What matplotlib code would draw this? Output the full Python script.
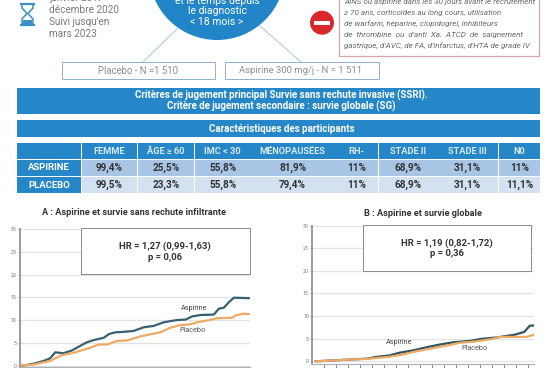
import matplotlib
matplotlib.use("Agg")
import matplotlib.pyplot as plt
from matplotlib.patches import Rectangle, Circle, Polygon

W, H = 553, 368
BLUE = "#2587c8"
DARK = "#3a3f44"
plt.rcParams['font.family'] = ['Roboto', 'DejaVu Sans']

# ---- data
columns = ["FEMME", "ÂGE ≥ 60", "IMC < 30", "MÉNOPAUSÉES", "RH-", "STADE II", "STADE III", "N0"]
row_names = ["ASPIRINE", "PLACEBO"]
aspirine_row = ["99,4%", "25,5%", "55,8%", "81,9%", "11%", "68,9%", "31,1%", "11%"]
placebo_row = ["99,5%", "23,3%", "55,8%", "79,4%", "11%", "68,9%", "31,1%", "11,1%"]

a_asp_x = [0, 1, 3.4, 5.8, 7.4, 8.6, 10.6, 12.6, 14.6, 16.2, 17.9, 20.3, 21.5, 23.1, 25.1, 27.5, 29.9, 32.3, 34.7, 38, 40, 41.6, 43.6, 46.8, 48, 49.2, 50.4, 51.6, 55.2]
a_asp_y = [0, 0, 0.4, 1, 1.6, 2.9, 2.7, 3.3, 4.3, 5.1, 5.6, 6.1, 6.9, 7.3, 7.4, 7.6, 8.4, 8.7, 9.5, 10, 10.1, 10.8, 11.1, 11.2, 12.5, 12.7, 13.9, 14.9, 14.8]
a_pla_x = [0, 3.4, 5.8, 7.4, 10.2, 12.6, 17, 19, 21, 23.5, 25.9, 29.1, 30.7, 33.9, 36.3, 38.8, 40.8, 42.8, 45.2, 47.6, 51.2, 52, 54, 55.2]
a_pla_y = [0, 0.2, 0.7, 1, 2.3, 2.7, 3.9, 4.6, 4.6, 5.4, 5.5, 6.4, 6.7, 7.3, 8.3, 8.9, 9, 9.5, 9.9, 10.4, 10.5, 11, 11.4, 11.3]

b_asp_x = [1, 7.75, 14, 16, 19.4, 21.9, 25.25, 28.6, 31.9, 35.25, 39.4, 42.75, 46.4, 50.7, 53, 54.4, 55.5]
b_asp_y = [0, 0.3, 0.6, 0.95, 1.3, 1.9, 2.4, 3.1, 3.7, 4.2, 4.5, 5, 5.3, 5.9, 6.5, 7.9, 7.9]
b_pla_x = [1, 7.75, 14, 19.4, 22.75, 26, 30.25, 34.4, 36.9, 41, 45.25, 46.9, 53.6, 55.5]
b_pla_y = [0, 0.3, 0.55, 1, 1.5, 2.2, 2.9, 3.6, 4.1, 4.4, 5, 5.4, 5.4, 5.9]

y_ticks = [0, 5, 10, 15, 20, 25, 30]
x_ticks = list(range(3, 55, 3))
col_edges = [17, 81.3, 137.7, 194.3, 251, 334, 378.5, 437, 498.3, 540.3]
XMAX = 55.5

fig = plt.figure(figsize=(W / 100, H / 100), dpi=100, facecolor="white")


def make_axes(x0, x1, ytop, ybot, ymin):
    ax = fig.add_axes([x0 / W, 1 - ybot / H, (x1 - x0) / W, (ybot - ytop) / H])
    ax.set_xlim(0, XMAX)
    ax.set_ylim(ymin, 30)
    ax.set_yticks(y_ticks)
    ax.set_xticks(x_ticks)
    ax.set_xticklabels([])
    ax.grid(axis="y", color="#e2e2e2", lw=0.9)
    ax.set_axisbelow(True)
    for s in ("top", "right"):
        ax.spines[s].set_visible(False)
    ax.spines["left"].set_color("#8f9498")
    ax.spines["left"].set_linewidth(1.3)
    ax.spines["bottom"].set_color("#aeb2b6")
    ax.spines["bottom"].set_linewidth(0.9)
    ax.tick_params(axis="y", labelsize=3.8, length=1.5, width=0.5, pad=0.5, colors="#777777")
    ax.tick_params(axis="x", length=3, width=0.6, colors="#777777")
    return ax


axA = make_axes(19.5, 250, 229, 366.7, -0.26)
axA.plot(a_asp_x, a_asp_y, color="#356170", lw=1.6, zorder=3)
axA.plot(a_pla_x, a_pla_y, color="#eeaa62", lw=1.6, zorder=3)

axB = make_axes(311.7, 534.3, 225.7, 364, -0.6)
axB.plot(b_asp_x, b_asp_y, color="#2f5560", lw=1.6, zorder=3)
axB.plot(b_pla_x, b_pla_y, color="#eeaa62", lw=1.6, zorder=3)

# ---- overlay drawn in pixel coordinates
ov = fig.add_axes([0, 0, 1, 1], zorder=10)
ov.set_xlim(0, W)
ov.set_ylim(H, 0)
ov.axis("off")
ov.patch.set_alpha(0)


def txt(x, y, s, size=7, color=DARK, ha="center", weight="normal", style="normal"):
    ov.text(x, y, s, fontsize=size, color=color, ha=ha, va="center", weight=weight, style=style, zorder=5)


def rect(x0, y0, x1, y1, fc="white", ec="none", lw=0.0, z=2):
    ov.add_patch(Rectangle((x0, y0), x1 - x0, y1 - y0, facecolor=fc, edgecolor=ec, linewidth=lw, zorder=z))


# top area
ov.plot([178, 143], [28, 62], color="#a9c6da", lw=0.7, zorder=1)
ov.plot([259, 301], [25, 62], color="#a9c6da", lw=0.7, zorder=1)
ov.add_patch(Circle((217, -28), 68, facecolor="#2185c7", edgecolor="none", zorder=2))
for y, s in [(0.5, "et le temps depuis"), (10.5, "le diagnostic"), (22, "< 18 mois >")]:
    ov.text(217, y, s, fontsize=7.5, color="white", ha="center", va="center", zorder=3)

rect(61.5, 62, 215, 78.5, ec="#8fb3cc", lw=0.7)
txt(137.7, 70.5, "Placebo - N =1 510", size=6.9, color="#8a8e92")
rect(225, 62, 378.5, 78.5, ec="#8fb3cc", lw=0.7)
txt(301, 70.5, "Aspirine 300 mg/j - N = 1 511", size=6.8, color="#8a8e92")

for y, s in [(-2, "janvier 2017 -"), (10, "décembre 2020"), (22, "Suivi jusqu'en"), (34, "mars 2023")]:
    txt(49, y, s, size=7.2, color="#777b80", ha="left")

# hourglass
ov.plot([20, 35], [3.5, 3.5], color="#3a8fc4", lw=1.6, solid_capstyle="butt")
ov.plot([20, 35], [24.5, 24.5], color="#3a8fc4", lw=1.6, solid_capstyle="butt")
ov.add_patch(Polygon([(22, 4), (33, 4), (33, 8), (28, 13.5), (33, 19), (33, 24), (22, 24), (22, 19), (27, 13.5), (22, 8)],
                     closed=True, fc="white", ec="#3a8fc4", lw=1.1))
ov.add_patch(Polygon([(23, 24), (32, 24), (32, 20), (23, 20)], closed=True, fc="#3a8fc4", ec="none"))

# contraindications
ov.add_patch(Circle((322, 22.7), 12, facecolor="#d9282c", edgecolor="none"))
ov.add_patch(Rectangle((314, 20.5), 16, 4.4, facecolor="white", edgecolor="none", zorder=3))
ov.plot([339.3, 339.3, 539.3, 539.3], [-2, 56, 56, -2], color="#d8a6aa", lw=0.9)
right_lines = ["AINS ou aspirine dans les 30 jours avant le recrutement",
               "≥ 70 ans, corticoïdes au long cours, utilisation",
               "de warfarin, héparine, clopidogrel, inhibiteurs",
               "de  thrombine  ou  d'anti  Xa.  ATCD  de  saignement",
               "gastrique, d'AVC, de FA, d'infarctus, d'HTA de grade IV"]
for y, s in zip([2, 13, 24, 35, 46], right_lines):
    txt(344, y, s, size=5.8, color="#6a6a6a", ha="left", style="italic")

# banners
cx = 281.5
rect(col_edges[0], 88, col_edges[-1], 114, fc=BLUE)
txt(cx, 95.5, "Critères de jugement principal Survie sans rechute invasive (SSRI).",
    size=7.0, color="white", weight="bold")
txt(cx, 106.5, "Critère de jugement secondaire : survie globale (SG)",
    size=7.0, color="white", weight="bold")
rect(col_edges[0], 120, col_edges[-1], 137, fc=BLUE)
txt(cx, 128.5, "Caractéristiques des participants", size=7.0, color="white", weight="bold")

# table
rows_y = [(143.3, 159), (160, 175.7), (177, 193)]
for i in range(len(col_edges) - 1):
    x0, x1 = col_edges[i] + 0.4, col_edges[i + 1] - 0.4
    xc = (x0 + x1) / 2
    rect(x0, rows_y[0][0], x1, rows_y[0][1], fc=BLUE)
    if i == 0:
        for r, name in enumerate(row_names):
            rect(x0, rows_y[r + 1][0], x1, rows_y[r + 1][1], fc=BLUE)
            txt(xc, sum(rows_y[r + 1]) / 2, name, size=6.8, color="white", weight="bold")
    else:
        txt(xc, 151, columns[i - 1], size=6.7, color="#d8e8f5", weight="bold")
        rect(x0, rows_y[1][0], x1, rows_y[1][1], fc="#a9c5e5")
        rect(x0, rows_y[2][0], x1, rows_y[2][1], fc="#d3e1f1")
        txt(xc, sum(rows_y[1]) / 2, aspirine_row[i - 1], size=7.2, color="#333", weight="bold")
        txt(xc, sum(rows_y[2]) / 2, placebo_row[i - 1], size=7.2, color="#333", weight="bold")

# chart annotations
txt(134, 212.5, "A : Aspirine et survie sans rechute infiltrante", size=6.6, color="#333", weight="bold")
txt(422.7, 213.5, "B : Aspirine et survie globale", size=6.6, color="#333", weight="bold")
rect(81, 228, 250, 274, ec="#8a8a8a", lw=0.7)
txt(165, 246.5, "HR = 1,27 (0,99-1,63)", size=6.8, color="#333", weight="bold")
txt(165, 257, "p = 0,06", size=6.8, color="#333", weight="bold")
rect(362.7, 225, 531, 271, ec="#8a8a8a", lw=0.7)
txt(446.7, 243.5, "HR = 1,19 (0,82-1,72)", size=6.8, color="#333", weight="bold")
txt(446.7, 254, "p = 0,36", size=6.8, color="#333", weight="bold")
txt(194, 308.5, "Aspirine", size=5.2, color="#444")
txt(192, 331, "Placebo", size=5.2, color="#555")
txt(398.7, 342.7, "Aspirine", size=5.2, color="#444")
txt(475, 348, "Placebo", size=5.2, color="#555")

fig.savefig("out.png", dpi=100)
